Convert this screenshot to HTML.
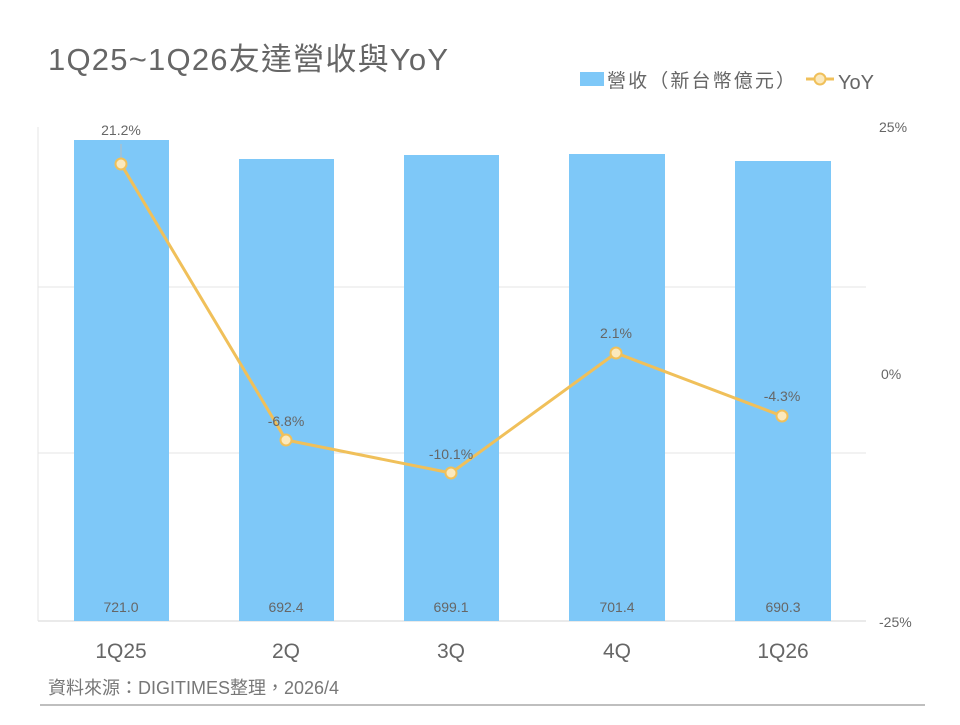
<!DOCTYPE html>
<html><head><meta charset="utf-8"><style>
body{margin:0;background:#fff;width:960px;height:720px;overflow:hidden;font-family:"Liberation Sans","Noto Sans CJK TC",sans-serif}
</style></head><body>
<svg width="960" height="720" xmlns="http://www.w3.org/2000/svg" font-family="Liberation Sans, Noto Sans CJK TC, sans-serif">
<text x="48" y="70" font-size="31" fill="#666" textLength="400">1Q25~1Q26友達營收與YoY</text>
<rect x="580" y="72" width="24" height="14" fill="#7ec8f8"/>
<text x="607" y="87" font-size="19" fill="#666" textLength="188">營收（新台幣億元）</text>
<line x1="806" y1="79" x2="834" y2="79" stroke="#f0c05a" stroke-width="3"/>
<circle cx="820" cy="79" r="5.5" fill="#fbe9bd" stroke="#f0c05a" stroke-width="2"/>
<text x="838" y="89" font-size="20" fill="#666">YoY</text>
<g stroke="#e4e4e4" stroke-width="1">
<line x1="38" y1="287" x2="866" y2="287"/>
<line x1="38" y1="453" x2="866" y2="453"/>
<line x1="38" y1="127" x2="38" y2="621"/>
<line x1="38" y1="621" x2="866" y2="621" stroke-width="1.5"/>
</g>
<g fill="#7ec8f8">
<rect x="74" y="140" width="95" height="481"/>
<rect x="239" y="159" width="95" height="462"/>
<rect x="404" y="155" width="95" height="466"/>
<rect x="569" y="154" width="96" height="467"/>
<rect x="735" y="161" width="96" height="460"/>
</g>
<g font-size="14" fill="#666" text-anchor="middle">
<text x="121" y="612">721.0</text><text x="286" y="612">692.4</text><text x="451" y="612">699.1</text><text x="617" y="612">701.4</text><text x="783" y="612">690.3</text>
</g>
<line x1="121" y1="144" x2="121" y2="164" stroke="#bbb"/>
<polyline points="121,164 286,440 451,473 616,353 782,416" fill="none" stroke="#f0c05a" stroke-width="3"/>
<g fill="#fbe9bd" stroke="#f0c05a" stroke-width="2">
<circle cx="121" cy="164" r="5.5"/><circle cx="286" cy="440" r="5.5"/><circle cx="451" cy="473" r="5.5"/><circle cx="616" cy="353" r="5.5"/><circle cx="782" cy="416" r="5.5"/>
</g>
<g font-size="14" fill="#666" text-anchor="middle">
<text x="121" y="135">21.2%</text><text x="286" y="426">-6.8%</text><text x="451" y="459">-10.1%</text><text x="616" y="338">2.1%</text><text x="782" y="401">-4.3%</text>
</g>
<g font-size="14" fill="#666">
<text x="879" y="132">25%</text><text x="881" y="379">0%</text><text x="879" y="627">-25%</text>
</g>
<g font-size="21" fill="#666" text-anchor="middle">
<text x="121" y="658">1Q25</text><text x="286" y="658">2Q</text><text x="451" y="658">3Q</text><text x="617" y="658">4Q</text><text x="783" y="658">1Q26</text>
</g>
<text x="48" y="694" font-size="18" fill="#777">資料來源：DIGITIMES整理，2026/4</text>
<line x1="40" y1="705" x2="925" y2="705" stroke="#aaa" stroke-width="1.5"/>
</svg>
</body></html>
